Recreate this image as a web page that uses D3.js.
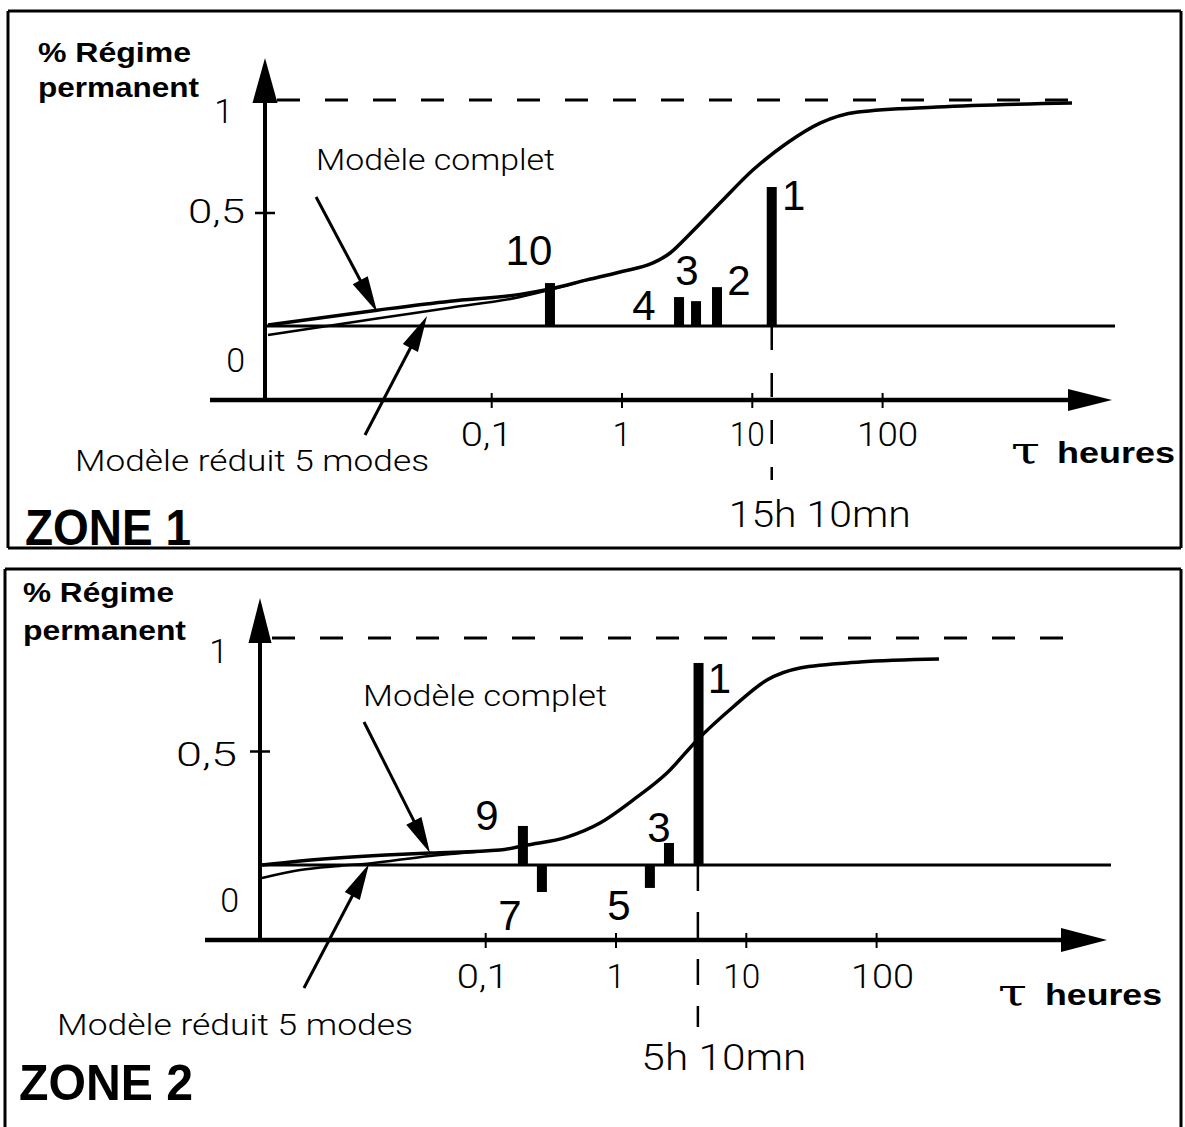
<!DOCTYPE html>
<html><head><meta charset="utf-8">
<script src="https://cdn.jsdelivr.net/npm/d3@7"></script>
<style>
body{margin:0;background:#fff}
svg{display:block;background:#fff}
.thin{font-family:Roboto,"Open Sans","DejaVu Sans",sans-serif;font-weight:300;fill:#000}
.bold{font-family:"Liberation Sans",Arial,Helvetica,sans-serif;font-weight:bold;fill:#000}
.num{font-family:"Liberation Sans",Arial,Helvetica,sans-serif;font-weight:normal;fill:#000}
.tau{font-family:"DejaVu Serif","Liberation Serif",serif;fill:#000}
</style></head><body>
<svg id="c" width="1185" height="1127"></svg>
<script>
// ---------------- DATA ----------------
const xTickValues = [0.1, 1, 10, 100];
const xTickLabels = ["0,1", "1", "10", "100"];
const yTickValues = [0, 0.5, 1];
const yTickLabels = ["0", "0,5", "1"];

// ZONE 1
const z1CompletTau = [0.00192, 0.0132, 0.0479, 0.165, 0.28, 0.539, 0.966, 1.73, 2.34, 3.15, 5.65, 10.1, 18.5, 33.1, 64.7, 261, 2840];
const z1CompletVal = [0.004, 0.07, 0.11, 0.14, 0.164, 0.204, 0.239, 0.279, 0.323, 0.394, 0.544, 0.69, 0.81, 0.898, 0.947, 0.969, 0.987];
const z1ReduitTau = [0.00192, 0.0132, 0.0479, 0.165, 0.28, 0.539];
const z1ReduitVal = [-0.04, 0.033, 0.081, 0.128, 0.16, 0.204];
const z1ModeLabels = ["10", "4", "3", "2", "1"];
const z1ModeTau = [0.28, 2.74, 3.7, 5.36, 14.1];
const z1ModeVal = [0.19, 0.128, 0.11, 0.172, 0.615];
const z1MarkTau = 14.1;
const z1MarkLabel = "15h 10mn";
const z1ArrowCompletTau = [0.00449, 0.0132];
const z1ArrowCompletVal = [0.571, 0.062];
const z1ArrowReduitTau = [0.01066, 0.0319];
const z1ArrowReduitVal = [-0.482, 0.044];

// ZONE 2
const z2CompletTau = [0.00192, 0.00376, 0.0171, 0.0374, 0.1288, 0.2075, 0.4206, 0.754, 1.35, 2.46, 4.19, 7.91, 14.4, 25.8, 74.6, 301];
const z2CompletVal = [0.0, 0.018, 0.044, 0.053, 0.066, 0.088, 0.123, 0.185, 0.286, 0.405, 0.55, 0.696, 0.815, 0.868, 0.894, 0.907];
const z2ReduitTau = [0.00192, 0.00376, 0.0076, 0.0123, 0.0374, 0.0904];
const z2ReduitVal = [-0.057, -0.022, -0.004, 0.006, 0.04, 0.06];
const z2ModeLabels = ["9", "7", "5", "3", "1"];
const z2ModeTau = [0.193, 0.27, 1.82, 2.55, 4.3];
const z2ModeVal = [0.172, -0.119, -0.101, 0.097, 0.89];
const z2MarkTau = 4.25;
const z2MarkLabel = "5h 10mn";
const z2ArrowCompletTau = [0.01164, 0.0374];
const z2ArrowCompletVal = [0.63, 0.053];
const z2ArrowReduitTau = [0.00403, 0.01272];
const z2ArrowReduitVal = [-0.542, 0.004];

const txtCompletLabel = "Modèle complet";
const txtReduitLabel = "Modèle réduit 5 modes";
const txtYTitle = ["% Régime", "permanent"];
const txtXTitleSym = "τ";
const txtXTitle = "heures";

// ---------------- LAYOUT ----------------
const panels = [
  {
    zone: "ZONE 1",
    completTau: z1CompletTau, completVal: z1CompletVal,
    reduitTau: z1ReduitTau, reduitVal: z1ReduitVal,
    modeLabels: z1ModeLabels, modeTau: z1ModeTau, modeVal: z1ModeVal,
    markTau: z1MarkTau, markLabel: z1MarkLabel,
    arrC: [z1ArrowCompletTau, z1ArrowCompletVal], arrR: [z1ArrowReduitTau, z1ArrowReduitVal],
    L: {
      xr: [491.7, 882.6], yr: [326, 100], axisY: 400, yAxisX: 265,
      xAxisStart: 210, xArrowBase: 1068, xArrowTip: 1112, xArrowHH: 11,
      yArrowTip: 58, yArrowBase: 103, yArrowHW: 12.5,
      zeroEnd: 1115, dashStart: 277, dashEnd: 1075,
      markEnd: 480, markDash: "24,23", markTextX: -43, markTextY: 527, markTextW: 182,
      box: {x1: 8, y1: 11, x2: 1181, y2: 548, bottom: true},
      titleX: 38, titleY: [62, 97], titleW: [153, 161],
      xLabelDy: 46, xLabelDx: [-5, 0, -5, 5], xLabelW: [52, 0, 35, 61],
      xTitleY: 463, tauX: 1011, heuresX: 1057, heuresW: 118,
      zoneX: 25, zoneY: 545, zoneW: 166,
      compX: 316, compY: 170, compW: 239,
      redX: 75, redY: 471, redW: 354,
      yLabelDx: [-20, -20, -32], yLabelDy: [46, 10, 23], yLabelW: [0, 57, 0],
      labelDx: [-21, -35, -9, 22, 22], labelY: [265, 320, 285, 295, 210]
    }
  },
  {
    zone: "ZONE 2",
    completTau: z2CompletTau, completVal: z2CompletVal,
    reduitTau: z2ReduitTau, reduitVal: z2ReduitVal,
    modeLabels: z2ModeLabels, modeTau: z2ModeTau, modeVal: z2ModeVal,
    markTau: z2MarkTau, markLabel: z2MarkLabel,
    arrC: [z2ArrowCompletTau, z2ArrowCompletVal], arrR: [z2ArrowReduitTau, z2ArrowReduitVal],
    L: {
      xr: [485.7, 876.6], yr: [865, 638], axisY: 940, yAxisX: 260,
      xAxisStart: 205, xArrowBase: 1061, xArrowTip: 1107, xArrowHH: 12,
      yArrowTip: 598, yArrowBase: 643, yArrowHW: 11.5,
      zeroEnd: 1111, dashStart: 272, dashEnd: 1070,
      markEnd: 1027, markDash: "26,21", markTextX: -56.5, markTextY: 1070, markTextW: 165,
      box: {x1: 5, y1: 569, x2: 1181, y2: 1127, bottom: false},
      titleX: 23, titleY: [602, 640], titleW: [151, 163],
      xLabelDy: 48, xLabelDx: [-3, 0, -4.5, 6], xLabelW: [52, 0, 37, 63],
      xTitleY: 1005, tauX: 998, heuresX: 1045, heuresW: 117,
      zoneX: 19, zoneY: 1100, zoneW: 174,
      compX: 363, compY: 706, compW: 244,
      redX: 57, redY: 1035, redW: 356,
      yLabelDx: [-21, -23, -32], yLabelDy: [47, 14, 25], yLabelW: [0, 61, 0],
      labelDx: [-36, -32, -31, -10, 21], labelY: [830, 930, 920, 842, 693]
    }
  }
];

const svg = d3.select("#c");
svg.append("rect").attr("width", 1185).attr("height", 1127).attr("fill", "#fff");

function txt(g, s, x, y, cls, size, anchor, width) {
  const t = g.append("text").attr("class", cls).attr("x", x).attr("y", y)
    .attr("font-size", size).attr("text-anchor", anchor || "start").text(s);
  if (width) t.attr("textLength", width).attr("lengthAdjust", "spacingAndGlyphs");
  return t;
}

function arrow(g, x1, y1, x2, y2, len, hw, sw) {
  const dx = x2 - x1, dy = y2 - y1, d = Math.hypot(dx, dy);
  const ux = dx / d, uy = dy / d;
  const bx = x2 - ux * len, by = y2 - uy * len;
  g.append("line").attr("x1", x1).attr("y1", y1).attr("x2", bx + ux * 2).attr("y2", by + uy * 2)
    .attr("stroke", "#000").attr("stroke-width", sw);
  g.append("path").attr("d", `M${x2},${y2}L${bx - uy * hw},${by + ux * hw}L${bx + uy * hw},${by - ux * hw}Z`)
    .attr("fill", "#000");
}

panels.forEach(p => {
  const L = p.L;
  const g = svg.append("g");
  const x = d3.scaleLog().domain([0.1, 100]).range(L.xr);
  const y = d3.scaleLinear().domain([0, 1]).range(L.yr);

  // frame
  const b = L.box;
  const fr = g.append("g").attr("stroke", "#000").attr("stroke-width", 3).attr("fill", "none");
  fr.append("line").attr("x1", b.x1).attr("x2", b.x2).attr("y1", b.y1).attr("y2", b.y1);
  fr.append("line").attr("x1", b.x1).attr("x2", b.x1).attr("y1", b.y1).attr("y2", b.y2);
  fr.append("line").attr("x1", b.x2).attr("x2", b.x2).attr("y1", b.y1).attr("y2", b.y2);
  if (b.bottom) fr.append("line").attr("x1", b.x1).attr("x2", b.x2).attr("y1", b.y2).attr("y2", b.y2);

  // dashed line at 1
  g.append("line").attr("x1", L.dashStart).attr("x2", L.dashEnd).attr("y1", y(1)).attr("y2", y(1))
    .attr("stroke", "#000").attr("stroke-width", 3).attr("stroke-dasharray", "23,25");

  // zero line
  g.append("line").attr("x1", L.yAxisX).attr("x2", L.zeroEnd).attr("y1", y(0)).attr("y2", y(0))
    .attr("stroke", "#000").attr("stroke-width", 3);

  // x axis
  g.append("line").attr("x1", L.xAxisStart).attr("x2", L.xArrowBase + 2).attr("y1", L.axisY).attr("y2", L.axisY)
    .attr("stroke", "#000").attr("stroke-width", 4.5);
  g.append("path").attr("d", `M${L.xArrowTip},${L.axisY}L${L.xArrowBase},${L.axisY - L.xArrowHH}L${L.xArrowBase},${L.axisY + L.xArrowHH}Z`)
    .attr("fill", "#000");
  xTickValues.forEach((v, i) => {
    g.append("line").attr("x1", x(v)).attr("x2", x(v)).attr("y1", L.axisY - 7).attr("y2", L.axisY + 8)
      .attr("stroke", "#000").attr("stroke-width", 2);
    txt(g, xTickLabels[i], x(v) + L.xLabelDx[i], L.axisY + L.xLabelDy, "thin", 34, "middle", L.xLabelW[i] || null);
  });

  // y axis
  g.append("line").attr("x1", L.yAxisX).attr("x2", L.yAxisX).attr("y1", L.axisY).attr("y2", L.yArrowBase - 2)
    .attr("stroke", "#000").attr("stroke-width", 4);
  g.append("path").attr("d", `M${L.yAxisX},${L.yArrowTip}L${L.yAxisX - L.yArrowHW},${L.yArrowBase}L${L.yAxisX + L.yArrowHW},${L.yArrowBase}Z`)
    .attr("fill", "#000");
  g.append("line").attr("x1", L.yAxisX - 10).attr("x2", L.yAxisX + 10).attr("y1", y(0.5)).attr("y2", y(0.5))
    .attr("stroke", "#000").attr("stroke-width", 2.5);
  yTickValues.forEach((v, i) => {
    txt(g, yTickLabels[i], L.yAxisX + L.yLabelDx[i], y(v) + L.yLabelDy[i], "thin", 34, "end", L.yLabelW[i] || null);
  });

  // curves
  const line = d3.line().x(d => x(d[0])).y(d => y(d[1])).curve(d3.curveMonotoneX);
  g.append("path").attr("d", line(p.reduitTau.map((t, i) => [t, p.reduitVal[i]])))
    .attr("fill", "none").attr("stroke", "#000").attr("stroke-width", 2.5);
  g.append("path").attr("d", line(p.completTau.map((t, i) => [t, p.completVal[i]])))
    .attr("fill", "none").attr("stroke", "#000").attr("stroke-width", 3.5).attr("stroke-linejoin", "round");

  // mode bars
  p.modeTau.forEach((t, i) => {
    const v = p.modeVal[i];
    g.append("rect").attr("x", x(t) - 5).attr("width", 10)
      .attr("y", Math.min(y(v), y(0))).attr("height", Math.abs(y(v) - y(0)))
      .attr("fill", "#000");
    txt(g, p.modeLabels[i], x(t) + L.labelDx[i], L.labelY[i], "num", 42, "middle");
  });

  // mark dashed vertical
  g.append("line").attr("x1", x(p.markTau)).attr("x2", x(p.markTau)).attr("y1", y(0)).attr("y2", L.markEnd)
    .attr("stroke", "#000").attr("stroke-width", 2.5).attr("stroke-dasharray", L.markDash);
  txt(g, p.markLabel, x(p.markTau) + L.markTextX, L.markTextY, "thin", 36, "start", L.markTextW);

  // annotation arrows
  arrow(g, x(p.arrC[0][0]), y(p.arrC[1][0]), x(p.arrC[0][1]), y(p.arrC[1][1]), 36, 8.5, 3);
  arrow(g, x(p.arrR[0][0]), y(p.arrR[1][0]), x(p.arrR[0][1]), y(p.arrR[1][1]), 36, 8.5, 3);
  txt(g, txtCompletLabel, L.compX, L.compY, "thin", 30, "start", L.compW);
  txt(g, txtReduitLabel, L.redX, L.redY, "thin", 30, "start", L.redW);

  // titles
  txt(g, txtYTitle[0], L.titleX, L.titleY[0], "bold", 27, "start", L.titleW[0]);
  txt(g, txtYTitle[1], L.titleX, L.titleY[1], "bold", 27, "start", L.titleW[1]);
  txt(g, txtXTitleSym, L.tauX, L.xTitleY, "tau", 38, "start", 29);
  txt(g, txtXTitle, L.heuresX, L.xTitleY, "bold", 30, "start", L.heuresW);
  txt(g, p.zone, L.zoneX, L.zoneY, "bold", 50, "start", L.zoneW);
});
</script>
</body></html>
